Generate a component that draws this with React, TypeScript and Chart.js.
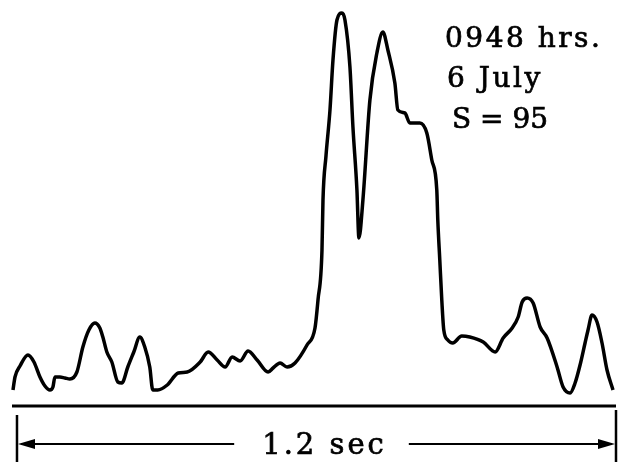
import React, { useEffect, useRef } from "react";
import { Chart, registerables } from "chart.js";

Chart.register(...registerables);

// time since start of the 1.2 s window (seconds)
const timeSec: number[] = [
  -0.008, -0.004, 0.006, 0.022, 0.034, 0.046, 0.056, 0.066, 0.072, 0.076,
  0.086, 0.096, 0.106, 0.12, 0.132, 0.144, 0.156, 0.166, 0.172, 0.18,
  0.19, 0.202, 0.21, 0.222, 0.234, 0.246, 0.256, 0.266, 0.272, 0.282,
  0.301, 0.323, 0.341, 0.367, 0.383, 0.401, 0.417, 0.431, 0.447, 0.463,
  0.481, 0.503, 0.513, 0.527, 0.541, 0.557, 0.581, 0.597, 0.603, 0.611,
  0.613, 0.619, 0.627, 0.633, 0.641, 0.651, 0.657, 0.667, 0.673, 0.681,
  0.685, 0.693, 0.707, 0.721, 0.733, 0.743, 0.757, 0.763, 0.777, 0.787,
  0.807, 0.821, 0.831, 0.841, 0.843, 0.847, 0.851, 0.855, 0.863, 0.873,
  0.891, 0.907, 0.934, 0.958, 0.974, 0.992, 1.004, 1.012, 1.022, 1.034,
  1.048, 1.062, 1.082, 1.094, 1.108, 1.118, 1.128, 1.138, 1.144, 1.152,
  1.162, 1.172, 1.182, 1.194,
];

// trace amplitude above baseline (arbitrary units)
const amplitude: number[] = [
  16, 29, 40, 51, 44, 29, 20, 16, 19, 29,
  29, 28, 27, 34, 59, 76, 83, 78, 69, 54,
  44, 24, 23, 39, 54, 69, 59, 39, 16, 16,
  21, 33, 34, 44, 54, 46, 39, 49, 45, 55,
  46, 34, 38, 43, 39, 43, 61, 78, 106, 156,
  206, 250, 296, 346, 386, 393, 386, 339, 279, 216,
  168, 206, 306, 353, 374, 356, 323, 296, 293, 283,
  283, 273, 246, 216, 186, 146, 106, 76, 66, 63,
  70, 69, 64, 54, 68, 78, 89, 104, 108, 103,
  79, 68, 39, 19, 13, 23, 41, 63, 76, 91,
  84, 63, 36, 16,
];

const annotationLines: string[] = ["0948 hrs.", "6 July", "S = 95"];
const spanLabel = "1.2 sec";
const spanStart = 0;
const spanEnd = 1.2;

const overlayPlugin = {
  id: "overlay",
  afterDraw(chart: any) {
    const ctx = chart.ctx as CanvasRenderingContext2D;
    const xs = chart.scales.x;
    const ys = chart.scales.y;
    const y0 = ys.getPixelForValue(0);
    const xa = xs.getPixelForValue(spanStart);
    const xb = xs.getPixelForValue(spanEnd);
    ctx.save();
    ctx.strokeStyle = "#000";
    ctx.fillStyle = "#000";
    // baseline
    ctx.lineWidth = 2.8;
    ctx.beginPath();
    ctx.moveTo(chart.chartArea.left, y0);
    ctx.lineTo(xb, y0);
    ctx.stroke();
    // bracket verticals
    ctx.lineWidth = 2.5;
    ctx.beginPath();
    ctx.moveTo(xa, y0 + 9);
    ctx.lineTo(xa, chart.height);
    ctx.moveTo(xb, y0 + 4);
    ctx.lineTo(xb, chart.height);
    ctx.stroke();
    // arrows + span label
    const ay = y0 + 38;
    const textCx = (xa + xb) / 2 + 8;
    ctx.font = "29px 'DejaVu Serif'";
    (ctx as any).letterSpacing = "3px";
    const tw = ctx.measureText(spanLabel).width;
    ctx.textAlign = "left";
    ctx.textBaseline = "alphabetic";
    ctx.lineWidth = 0.7;
    ctx.fillText(spanLabel, textCx - tw / 2, ay + 10);
    ctx.strokeText(spanLabel, textCx - tw / 2, ay + 10);
    ctx.lineWidth = 2.2;
    ctx.beginPath();
    ctx.moveTo(xa + 4, ay);
    ctx.lineTo(textCx - tw / 2 - 28, ay);
    ctx.moveTo(textCx + tw / 2 + 22, ay);
    ctx.lineTo(xb - 4, ay);
    ctx.stroke();
    ctx.beginPath();
    ctx.moveTo(xa + 1, ay);
    ctx.lineTo(xa + 18, ay - 5);
    ctx.lineTo(xa + 18, ay + 5);
    ctx.closePath();
    ctx.fill();
    ctx.beginPath();
    ctx.moveTo(xb - 1, ay);
    ctx.lineTo(xb - 18, ay - 5);
    ctx.lineTo(xb - 18, ay + 5);
    ctx.closePath();
    ctx.fill();
    // annotation text
    ctx.font = "28px 'DejaVu Serif'";
    ctx.lineWidth = 0.7;
    const lx = [445, 447, 452];
    const ly = [47, 87, 128];
    const ls = ["2.5px", "2.5px", "0px"];
    annotationLines.forEach((s, i) => {
      (ctx as any).letterSpacing = ls[i];
      ctx.fillText(s, lx[i], ly[i]);
      ctx.strokeText(s, lx[i], ly[i]);
    });
    ctx.restore();
  },
};

export default function App() {
  const ref = useRef<HTMLCanvasElement | null>(null);
  useEffect(() => {
    if (!ref.current) return;
    const chart = new Chart(ref.current, {
      type: "line",
      data: {
        datasets: [
          {
            data: timeSec.map((t, i) => ({ x: t, y: amplitude[i] })),
            borderColor: "#000",
            borderWidth: 3.5,
            pointRadius: 0,
            cubicInterpolationMode: "monotone",
            fill: false,
            clip: false as any,
          },
        ],
      },
      options: {
        animation: false,
        responsive: false,
        layout: { padding: { left: 12, right: 2, top: 0, bottom: 56 } },
        plugins: { legend: { display: false }, tooltip: { enabled: false }, title: { display: false } },
        scales: {
          x: { type: "linear", min: -0.01, max: 1.2, display: false },
          y: { type: "linear", min: 0, max: 406, display: false },
        },
      },
      plugins: [overlayPlugin],
    });
    return () => chart.destroy();
  }, []);
  return (
    <div style={{ position: "fixed", left: 0, top: 0, width: 618, height: 462, background: "#fff" }}>
      <canvas ref={ref} width={618} height={462} style={{ display: "block" }} />
    </div>
  );
}
